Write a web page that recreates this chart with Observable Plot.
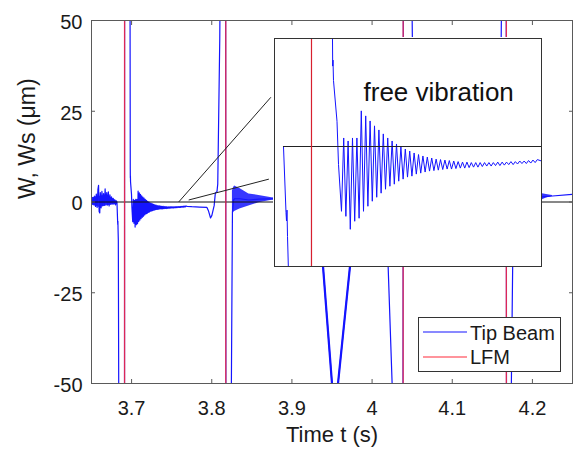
<!DOCTYPE html>
<html><head><meta charset="utf-8">
<script src="https://cdn.jsdelivr.net/npm/d3@7"></script>
<script src="https://cdn.jsdelivr.net/npm/@observablehq/plot@0.6"></script>
<style>
body{margin:0;background:#fff;}
#wrap{position:relative;width:574px;height:450px;overflow:hidden;font-family:"Liberation Sans",Arial,sans-serif;}
#main,#inset,#legend{position:absolute;}
#main{left:0;top:0;}
#inset{left:273px;top:37px;}
#legend{left:418px;top:317px;}
</style></head><body><div id="wrap"><div id="main"></div><div id="inset"></div><div id="legend"></div></div>
<script>
// ---------- data (time in s, deflection in µm) ----------
const xTicks = [3.7, 3.8, 3.9, 4.0, 4.1, 4.2];
const yTicks = [-50, -25, 0, 25, 50];
const xDomain = [3.65, 4.25];
const yDomain = [-50, 50];
const insetXDomain = [3.67871, 3.76922];
const insetYDomain = [-10, 9];
const insetStart = 3.68176;
const lfmTimes = [3.69125, 3.8175, 4.03875, 4.1675];
const seriesNames = ["Tip Beam", "LFM"];
const xLabel = "Time t (s)";
const yLabel = "W, Ws (\u03bcm)";
const insetLabel = "free vibration";

// pre-pulse noise and first pulse
const preT = [3.6500,3.6510,3.6520,3.6530,3.6540,3.6550,3.6560,3.6570,3.6580,3.6588,3.6595,3.6603,3.6610,3.6620,3.6630,3.6640,3.6650,3.6660,3.6670,3.6680,3.6690,3.6700,3.6710,3.6720,3.6730,3.6740,3.6750,3.6760,3.6770,3.6780,3.6790,3.6800,3.6810,
  3.68176,3.68261,3.68278,3.68295,3.68312,3.68346,3.6842,3.6912,3.6913,3.6980,3.69837,3.69844,3.69854,3.69871,3.69990,3.70041];
const preW = [0.8,-0.5,1.3,-0.7,1.6,-1.2,2.2,-1.5,3.4,4.6,-2.6,-3.0,2.6,-1.6,2.9,-1.0,2.3,-0.9,3.6,-0.6,2.6,-0.8,2.8,-1.1,2.0,-0.6,1.4,-0.5,1.0,-0.6,0.5,-0.8,0.3,
  0,-5.5,-6.2,-5.3,-7.5,-10.5,-70,-70,70,70,9.0,6.7,7.2,5.5,2.1,-1.5];

// free vibration after the first pulse (peaks and troughs)
const decayT = [3.70142,3.70217,3.70291,3.70366,3.70440,3.70515,3.70590,3.70664,3.70739,3.70813,
3.70888,3.70963,3.71037,3.71112,3.71186,3.71261,3.71336,3.71410,3.71485,3.71559,
3.71634,3.71709,3.71783,3.71858,3.71932,3.72007,3.72082,3.72156,3.72231,3.72305,
3.72380,3.72455,3.72529,3.72604,3.72678,3.72753,3.72828,3.72902,3.72977,3.73051,
3.73126,3.73201,3.73275,3.73350,3.73424,3.73499,3.73574,3.73648,3.73723,3.73797,
3.73872,3.73947,3.74021,3.74096,3.74170,3.74245,3.74320,3.74394,3.74469,3.74543,
3.74618,3.74693,3.74767,3.74842,3.74916,3.74991,3.75066,3.75140,3.75215,3.75289,
3.75364,3.75439,3.75513,3.75588,3.75662,3.75737,3.75812,3.75886,3.75961,3.76035,
3.76110,3.76185,3.76259,3.76334,3.76408,3.76483,3.76558,3.76632,3.76707,3.76781];
const decayW = [-5.40,0.71,-5.82,0.46,-6.90,0.71,-6.23,0.71,-5.98,2.97,
-5.40,2.55,-4.98,2.13,-4.56,1.72,-4.23,1.38,-3.89,1.05,
-3.56,0.71,-3.31,0.46,-3.14,0.21,-2.89,-0.04,-2.72,-0.21,
-2.55,-0.38,-2.47,-0.54,-2.30,-0.67,-2.22,-0.79,-2.13,-0.88,
-2.05,-0.96,-2.01,-1.05,-1.97,-1.09,-1.92,-1.13,-1.88,-1.17,
-1.88,-1.21,-1.84,-1.26,-1.80,-1.30,-1.80,-1.30,-1.76,-1.34,
-1.72,-1.34,-1.72,-1.34,-1.67,-1.34,-1.63,-1.34,-1.63,-1.34,
-1.59,-1.30,-1.59,-1.30,-1.55,-1.30,-1.51,-1.26,-1.51,-1.26,
-1.46,-1.21,-1.42,-1.21,-1.42,-1.17,-1.38,-1.13,-1.34,-1.09];

// the rest of the record
const postT = [3.76922,3.7750,3.7850,3.7940,3.7960,3.7985,3.8000,3.8030,3.8045,3.8065,3.8075,3.8100,3.8108,3.8173,3.8177,3.8241,3.8245,3.8258,3.8271,3.8285,3.8350,3.8463,3.8588,3.8750,3.9000,3.9250,3.9320,3.93875,3.9500,3.9540,3.9575,3.9725,3.9780,3.9850,4.0000,4.0120,4.0160,4.0200,4.0250,4.0265,4.0385,4.0390,4.0493,4.0500,4.0520,4.0545,4.0600,4.1000,4.1550,4.1600,4.16125,4.1620,4.1673,4.1677,4.1730,4.17375,4.1760,4.1800,4.2125,4.2250,4.2500];
const postW = [-1.21,-1.3,-1.4,-1.5,-2.5,-4.4,-3.8,-1.0,2.5,2.8,5,45,70,70,-70,-70,-50,-3,0.5,0.9,0.9,0.55,0.8,0.85,1.0,0.5,-5,-17.6,-50,-53,-50,-17.6,-6,0,1.5,0.5,-3,-17.6,-50,-70,-70,70,70,50,10,-2,1,1,1.5,20,50,70,70,-70,-70,-50,-5,2,1.4,1.65,2.1];

// dense oscillation envelopes seen in the main view
const band1T = [3.650, 3.660, 3.670, 3.681];
const band1Top = [1.2, 1.6, 1.8, 0.4];
const band1Bot = [-0.8, -1.5, -1.0, -0.6];
const band2T = [3.8258, 3.8271, 3.8285, 3.8350, 3.8463, 3.8588, 3.8750, 3.8800];
const band2Top = [3.0, 3.9, 4.4, 3.7, 2.2, 1.8, 1.2, 1.1];
const band2Bot = [-3.0, -2.9, -2.6, -1.9, -1.1, -0.2, 0.5, 0.6];
const band3T = [4.2125, 4.2175, 4.2250];
const band3Top = [2.3, 2.1, 1.8];
const band3Bot = [0.6, 1.1, 1.5];

// zoom callout lines (main-axis data units)
const calloutT1 = [3.75875, 3.77125];
const calloutW1 = [0, 0.55];
const calloutT2 = [3.87375, 3.87125];
const calloutW2 = [28.85, 6.3];

// ---------- build tables ----------
const trace = [];
preT.forEach((t, i) => trace.push({t, w: preW[i]}));
decayT.forEach((t, i) => trace.push({t, w: decayW[i]}));
postT.forEach((t, i) => trace.push({t, w: postW[i]}));
const band = (T, top, bot) => T.map((t, i) => ({t, top: top[i], bot: bot[i]}));
const bands = [band(band1T, band1Top, band1Bot), band(band2T, band2Top, band2Bot), band(band3T, band3Top, band3Bot)];
const callouts = calloutT1.map((t, i) => ({x1: t, y1: calloutW1[i], x2: calloutT2[i], y2: calloutW2[i]}));

const FONT = "'Liberation Sans', Arial, Helvetica, sans-serif";
const BLUE = "#1414ff";
const RED = "#ff2a3a";
const AX = "#5a5a5a";
const TXT = "#1a1a1a";
const fmt = d => String(Math.round(d * 100) / 100);

const main = Plot.plot({
  width: 574, height: 450,
  marginLeft: 91, marginRight: 2, marginTop: 20, marginBottom: 67,
  style: {fontFamily: FONT, background: "white", overflow: "hidden"},
  x: {domain: xDomain},
  y: {domain: yDomain},
  marks: [
    ...bands.map(b => Plot.areaY(b, {x: "t", y1: "bot", y2: "top", fill: BLUE, fillOpacity: 0.85, clip: true})),
    Plot.lineY(trace, {x: "t", y: "w", stroke: BLUE, strokeWidth: 1.2, clip: true}),
    Plot.lineY(trace.filter(d => d.t >= 3.935 && d.t <= 3.975), {x: "t", y: "w", stroke: BLUE, strokeWidth: 2.2, clip: true}),
    Plot.ruleY([0], {stroke: "#111", strokeWidth: 1}),
    Plot.ruleX(lfmTimes, {stroke: RED, strokeWidth: 1.3, strokeOpacity: 0.85}),
    Plot.link(callouts, {x1: "x1", y1: "y1", x2: "x2", y2: "y2", stroke: "#222", strokeWidth: 1}),
    Plot.frame({stroke: AX}),
    Plot.axisX(xTicks, {anchor: "bottom", tickSize: 4, dy: -4, tickFormat: () => "", stroke: AX, label: null}),
    Plot.axisX(xTicks, {anchor: "top", tickSize: 4, dy: 4, tickFormat: () => "", stroke: AX, label: null}),
    Plot.axisX(xTicks, {anchor: "bottom", tickSize: 0, tickPadding: 17, tickFormat: fmt, fontSize: 20, color: TXT, label: null}),
    Plot.axisY(yTicks, {anchor: "left", tickSize: 4, dx: 4, tickFormat: () => "", stroke: AX, label: null}),
    Plot.axisY(yTicks, {anchor: "right", tickSize: 4, dx: -4, tickFormat: () => "", stroke: AX, label: null}),
    Plot.axisY(yTicks, {anchor: "left", tickSize: 0, tickPadding: 9, dy: 2, tickFormat: fmt, fontSize: 20, color: TXT, label: null}),
    Plot.text([xLabel], {text: d => d, frameAnchor: "bottom", dy: 58, fontSize: 22, fill: TXT}),
    Plot.text([yLabel], {text: d => d, frameAnchor: "left", rotate: -90, dx: -64, dy: -3, fontSize: 23, fill: TXT})
  ]
});
document.getElementById("main").appendChild(main);

const inset = Plot.plot({
  width: 269, height: 230, margin: 1,
  style: {fontFamily: FONT, background: "white", overflow: "hidden"},
  x: {domain: insetXDomain, axis: null},
  y: {domain: insetYDomain, axis: null},
  marks: [
    Plot.lineY(trace.filter(d => d.t >= insetStart), {x: "t", y: "w", stroke: BLUE, strokeWidth: 1, clip: true}),
    Plot.ruleY([0], {x1: insetStart, x2: insetXDomain[1], stroke: "#222", strokeWidth: 1}),
    Plot.ruleX(lfmTimes.filter(t => t > insetXDomain[0] && t < insetXDomain[1]), {stroke: "#d8202e", strokeWidth: 1.2}),
    Plot.text([insetLabel], {text: d => d, frameAnchor: "top-left", dx: 89, dy: 44, textAnchor: "start", fontSize: 26, fill: "#111"}),
    Plot.frame({stroke: "#333"})
  ]
});
document.getElementById("inset").appendChild(inset);

// legend
const ns = "http://www.w3.org/2000/svg";
const lg = document.createElementNS(ns, "svg");
lg.setAttribute("width", 143); lg.setAttribute("height", 55);
lg.innerHTML = `<rect x="0.5" y="0.5" width="142" height="54" fill="white" stroke="#333"/>` +
  [BLUE, RED].map((c, i) =>
    `<line x1="5" x2="49" y1="${15 + i * 25}" y2="${15 + i * 25}" stroke="${c}" stroke-width="1.2"/>` +
    `<text x="52" y="${23 + i * 24}" font-family="${FONT.replace(/'/g, "")}" font-size="20" fill="${TXT}">${seriesNames[i]}</text>`).join("");
document.getElementById("legend").appendChild(lg);
</script>
</body></html>
